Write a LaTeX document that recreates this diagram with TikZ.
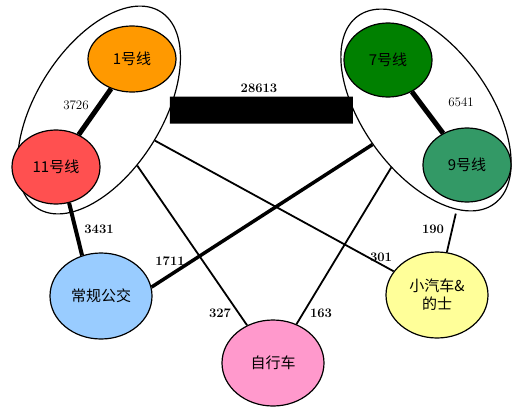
\documentclass[tikz,border=0pt]{standalone}
\usepackage{fontspec}
\newfontfamily\cjk{Noto Sans CJK SC}
\usepackage{xcolor}
\usetikzlibrary{shapes.geometric,positioning}
\definecolor{lineorange}{HTML}{FF9900}
\definecolor{linered}{HTML}{FF5050}
\definecolor{linegreen}{HTML}{008000}
\definecolor{lineteal}{HTML}{339966}
\definecolor{busblue}{HTML}{99CCFF}
\definecolor{bikepink}{HTML}{FF99CC}
\definecolor{caryellow}{HTML}{FFFF99}

\begin{document}
\begin{tikzpicture}
  [x=1pt,y=-1pt,line width=1.8pt,
   every node/.style={ellipse,draw,line width=1.2pt,minimum width=88pt,minimum height=74pt,font=\cjk\fontsize{15}{18}\selectfont},
   group/.style={fill=white,minimum width=232pt,minimum height=126pt},
   mode/.style={minimum width=102pt,minimum height=86pt,align=center},
   num/.style={draw=none,rectangle,minimum size=0pt,inner sep=1pt,font=\bfseries\fontsize{13}{13}\selectfont},
   numthin/.style={num,font=\fontsize{13}{13}\selectfont}]
  \useasboundingbox (0,0) rectangle (512,413);
  \node[group,rotate=58] (g1) at (99,110) {};
  \node[group,rotate=-54] (g2) at (426,110) {};
  \node[fill=lineorange,minimum height=66pt] (n1) at (132,59) {1号线};
  \node[fill=linered] (n11) at (56,167) {11号线};
  \node[fill=linegreen] (n7) at (388,60) {7号线};
  \node[fill=lineteal] (n9) at (467,165) {9号线};
  \node[mode,fill=busblue] (nb) at (101,296) {常规公交};
  \node[mode,fill=bikepink] (nz) at (273,363) {自行车};
  \node[mode,fill=caryellow] (nc) at (437,295) {小汽车\&\\的士};

  \draw[line width=27pt] (g1) -- (g2);
  \draw[line width=5pt] (n1) -- (n11);
  \draw[line width=5pt] (n7) -- (n9);
  \draw[line width=4pt] (n11.-70) -- (nb.115);
  \draw[line width=3.5pt] (g2) -- (nb.10);
  \foreach \from/\to in {g1/nz,g1/nc,g2/nz}
    \draw (\from) -- (\to);
  \draw[shorten <=12pt] (n9) -- (nc);

  \node[numthin] (l1) at (76,105) {3726};
  \node[num] (l2) at (259,88) {28613};
  \node[numthin] (l3) at (461,102) {6541};
  \node[num] (l4) at (99,229) {3431};
  \node[num] (l5) at (170,261) {1711};
  \node[num] (l6) at (220,313) {327};
  \node[num] (l7) at (321,313) {163};
  \node[num] (l8) at (381,257) {301};
  \node[num] (l9) at (433,229) {190};
\end{tikzpicture}
\end{document}
